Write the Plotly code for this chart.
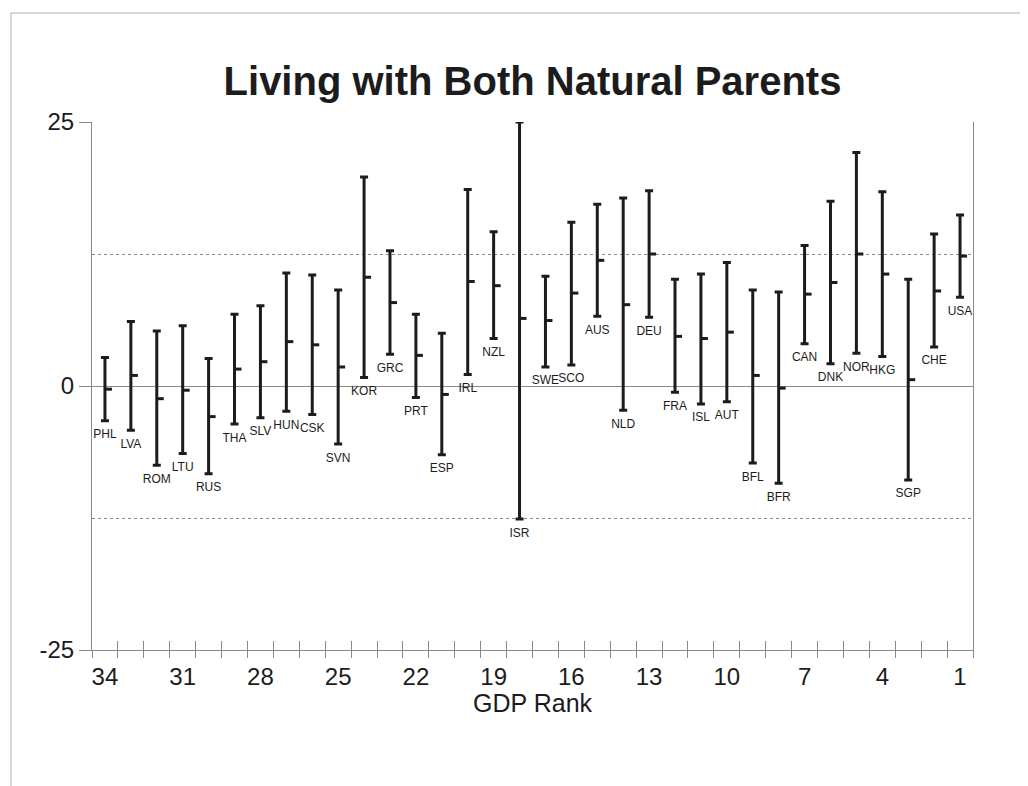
import plotly.graph_objects as go

# ---- data ----
ranks = list(range(34, 0, -1))
countries = ["PHL", "LVA", "ROM", "LTU", "RUS", "THA", "SLV", "HUN", "CSK", "SVN",
             "KOR", "GRC", "PRT", "ESP", "IRL", "NZL", "ISR", "SWE", "SCO", "AUS",
             "NLD", "DEU", "FRA", "ISL", "AUT", "BFL", "BFR", "CAN", "DNK", "NOR",
             "HKG", "SGP", "CHE", "USA"]
highs = [2.7, 6.1, 5.2, 5.7, 2.6, 6.8, 7.6, 10.7, 10.5, 9.1,
         19.8, 12.8, 6.8, 5.0, 18.6, 14.6, 25.0, 10.4, 15.5, 17.2,
         17.8, 18.5, 10.1, 10.6, 11.7, 9.1, 8.9, 13.3, 17.5, 22.1,
         18.4, 10.1, 14.4, 16.2]
mids = [-0.3, 1.0, -1.2, -0.4, -2.9, 1.6, 2.3, 4.2, 3.9, 1.8,
        10.3, 7.9, 2.9, -0.8, 9.9, 9.5, 6.4, 6.2, 8.8, 11.9,
        7.7, 12.5, 4.7, 4.5, 5.1, 1.0, -0.2, 8.7, 9.8, 12.5,
        10.6, 0.6, 9.0, 12.3]
lows = [-3.3, -4.2, -7.5, -6.4, -8.3, -3.6, -3.0, -2.4, -2.7, -5.5,
        0.8, 3.0, -1.1, -6.5, 1.1, 4.5, -12.6, 1.8, 2.0, 6.6,
        -2.3, 6.5, -0.6, -1.7, -1.5, -7.3, -9.2, 4.0, 2.1, 3.1,
        2.8, -8.9, 3.7, 8.4]
x_tick_vals = [34, 31, 28, 25, 22, 19, 16, 13, 10, 7, 4, 1]
y_tick_vals = [-25, 0, 25]
y_tick_text = ["-25", "0", "25"]
y_minor_grid = [-12.5, 12.5]

FONT = "Liberation Sans, Arial, sans-serif"
INK = "#1c1c1c"
GRAY = "#8a8a8a"

# page body adds an 8px offset; figure is sized to compensate
W, H = 1020, 778
L, T, R, B = 84, 114, 55, 136
PW, PH = W - L - R, H - T - B

fig = go.Figure()

# range bars with caps
fig.add_trace(go.Scatter(
    x=ranks, y=mids, mode="markers",
    marker=dict(size=1, color="rgba(0,0,0,0)"),
    error_y=dict(type="data", symmetric=False,
                 array=[h - m for h, m in zip(highs, mids)],
                 arrayminus=[m - l for m, l in zip(mids, lows)],
                 color=INK, thickness=3, width=4),
    hoverinfo="skip", showlegend=False))

# mid-value ticks to the right of each bar
tx, ty = [], []
for r, m in zip(ranks, mids):
    tx += [r, r - 0.27, None]
    ty += [m, m, None]
fig.add_trace(go.Scatter(x=tx, y=ty, mode="lines",
                         line=dict(color=INK, width=3),
                         hoverinfo="skip", showlegend=False))

# country labels under each bar
fig.add_trace(go.Scatter(
    x=ranks, y=lows, mode="markers+text", text=countries,
    marker=dict(size=12, color="rgba(0,0,0,0)"),
    textposition="bottom center",
    textfont=dict(family=FONT, size=12, color=INK),
    hoverinfo="skip", showlegend=False, xaxis="x2"))

half = [r + 0.5 for r in range(0, 35)]

fig.update_layout(
    width=W, height=H,
    paper_bgcolor="white", plot_bgcolor="white",
    margin=dict(l=L, r=R, t=T, b=B),
    font=dict(family=FONT, color=INK),
    title=dict(text="<b>Living with Both Natural Parents</b>",
               x=0.5, xref="paper", xanchor="center",
               y=1 - 73 / H, yref="container", yanchor="middle",
               font=dict(family=FONT, size=40, color=INK)),
    xaxis=dict(range=[34.5, 0.5], tickmode="array", tickvals=x_tick_vals,
               ticktext=[str(v) for v in x_tick_vals],
               ticks="outside", ticklen=5, tickcolor="rgba(0,0,0,0)",
               minor=dict(tickmode="array", tickvals=half, ticks="outside",
                          ticklen=7, tickcolor=GRAY, tickwidth=1, showgrid=False),
               tickfont=dict(family=FONT, size=24, color=INK),
               showgrid=False, zeroline=False,
               showline=True, linecolor=GRAY, linewidth=1),
    xaxis2=dict(range=[34.5, 0.5], overlaying="x", anchor="y", side="bottom",
                tickmode="array", tickvals=half, ticks="inside", ticklen=9,
                tickcolor=GRAY, tickwidth=1, showticklabels=False,
                showgrid=False, zeroline=False, showline=False),
    yaxis=dict(range=[-25, 25], tickmode="array", tickvals=y_tick_vals,
               ticktext=y_tick_text,
               ticks="outside", ticklen=12, tickcolor=GRAY, tickwidth=1,
               tickfont=dict(family=FONT, size=24, color=INK),
               showgrid=True, gridcolor=GRAY, gridwidth=1,
               minor=dict(tickmode="array", tickvals=y_minor_grid, ticks="",
                          showgrid=True, gridcolor=GRAY, griddash="dot", gridwidth=1),
               zeroline=False, showline=True, mirror=True,
               linecolor=GRAY, linewidth=1),
)

# x-axis title
fig.add_annotation(text="GDP Rank", xref="paper", yref="paper", x=0.5, y=0,
                   xanchor="center", yanchor="middle", yshift=-53, showarrow=False,
                   font=dict(family=FONT, size=25, color=INK))

# faint outer frame of the scanned chart
fig.add_shape(type="rect", xref="paper", yref="paper",
              x0=(3 - L) / PW, x1=(W + 20 - L) / PW,
              y0=-(B + 20) / PH, y1=(H - B - 5) / PH,
              line=dict(color="#b0b0b0", width=1), layer="below")

fig.write_html("out.html")
